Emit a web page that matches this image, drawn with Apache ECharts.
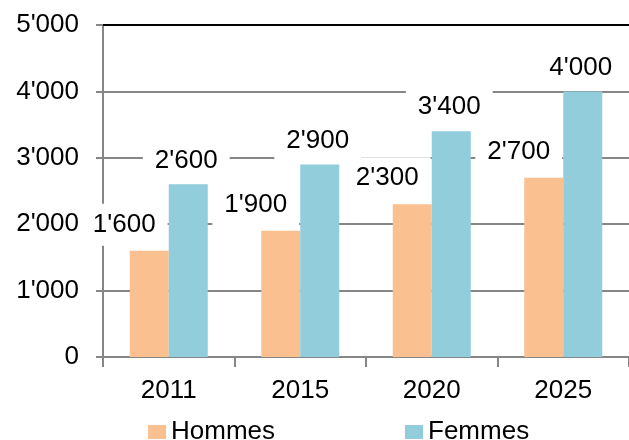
<!DOCTYPE html>
<html>
<head>
<meta charset="utf-8">
<script src="https://cdn.jsdelivr.net/npm/echarts@6/dist/echarts.min.js"></script>
<style>
html,body{margin:0;padding:0;background:#fff;}
#chart{width:629px;height:440px;}
</style>
</head>
<body>
<div id="chart"></div>
<script>
const categories = ['2011', '2015', '2020', '2025'];
const hommes = [1600, 1900, 2300, 2700];
const femmes = [2600, 2900, 3400, 4000];
const seriesNames = ['Hommes', 'Femmes'];
const yTicks = [0, 1000, 2000, 3000, 4000, 5000];

function fmt(v) {
  return String(v).replace(/\B(?=(\d{3})+(?!\d))/g, "'");
}

const FONT = "'Liberation Sans', Arial, sans-serif";
const GRAY = '#868686';

const chart = echarts.init(document.getElementById('chart'), null, {renderer: 'canvas'});

const labelBase = {
  show: true,
  position: 'top',
  formatter: p => fmt(p.value),
  color: '#000',
  fontFamily: FONT,
  fontSize: 26,
  lineHeight: 26,
  backgroundColor: '#fff',
  padding: [8, 12]
};

chart.setOption({
  animation: false,
  backgroundColor: '#fff',
  textStyle: {fontFamily: FONT},
  grid: {left: 103, top: 25, bottom: 83, right: -12, containLabel: false},
  legend: {
    data: seriesNames,
    left: 143,
    top: 414,
    icon: 'rect',
    itemWidth: 18,
    itemHeight: 14,
    itemGap: 130,
    textStyle: {color: '#000', fontSize: 26, fontFamily: FONT}
  },
  xAxis: [{
    type: 'category',
    data: categories,
    axisLine: {show: true, lineStyle: {color: GRAY, width: 2}},
    axisTick: {show: true, length: 10, lineStyle: {color: GRAY, width: 2}},
    axisLabel: {color: '#000', fontSize: 26, fontFamily: FONT, margin: 21}
  }, {
    type: 'category',
    data: categories,
    position: 'top',
    axisLine: {show: true, lineStyle: {color: '#000', width: 2}},
    axisTick: {show: false},
    axisLabel: {show: false}
  }],
  yAxis: {
    type: 'value',
    min: yTicks[0],
    max: yTicks[yTicks.length - 1],
    interval: 1000,
    axisLine: {show: true, lineStyle: {color: GRAY, width: 2}},
    axisTick: {show: true, length: 7, lineStyle: {color: GRAY, width: 2}},
    axisLabel: {color: '#000', fontSize: 26, fontFamily: FONT, margin: 24, formatter: v => fmt(v)},
    splitLine: {show: true, lineStyle: {color: GRAY, width: 2}}
  },
  series: [{
    name: seriesNames[0],
    type: 'bar',
    data: hommes,
    barWidth: 39,
    barGap: '0%',
    itemStyle: {color: '#FAC090'},
    label: Object.assign({}, labelBase, {distance: 5, offset: [-25, 0]})
  }, {
    name: seriesNames[1],
    type: 'bar',
    data: femmes,
    barWidth: 39,
    barGap: '0%',
    itemStyle: {color: '#92CDDC'},
    label: Object.assign({}, labelBase, {distance: 3, offset: [-2, 0]})
  }]
});
</script>
</body>
</html>
